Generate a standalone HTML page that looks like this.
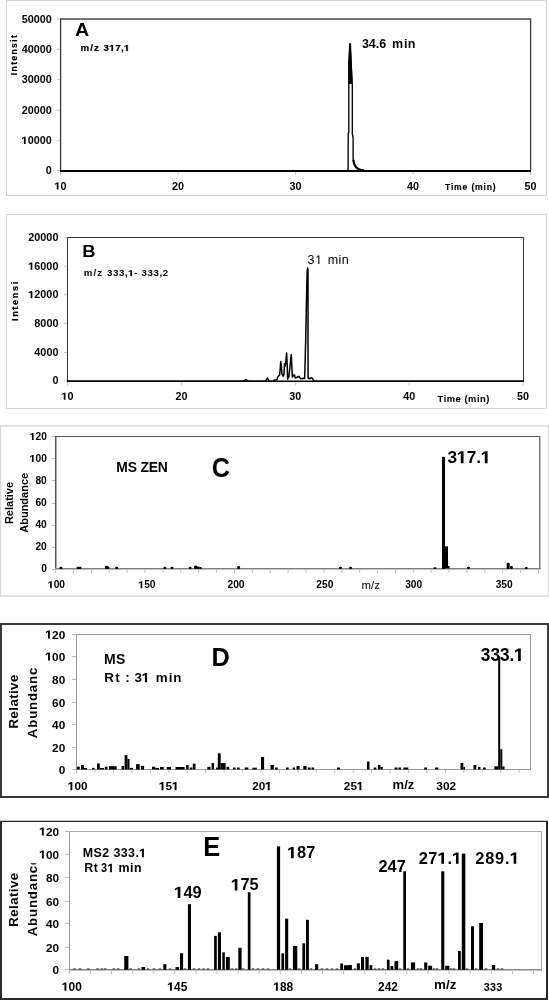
<!DOCTYPE html>
<html><head><meta charset="utf-8"><style>
html,body{margin:0;padding:0;background:#fff;}
body{width:549px;height:1000px;overflow:hidden;}
svg{display:block;will-change:transform;}
text{font-family:"Liberation Sans",sans-serif;fill:#000;}
</style></head><body>
<svg width="549" height="1000" viewBox="0 0 549 1000">
<rect x="6.5" y="0.5" width="540" height="195" fill="none" stroke="#d4d4d4" stroke-width="1"/>
<line x1="60" y1="19" x2="531" y2="19" stroke="#4a4a4a" stroke-width="1.5"/>
<line x1="530.6" y1="19" x2="530.6" y2="170.5" stroke="#3a3a3a" stroke-width="1.3"/>
<line x1="60.6" y1="19" x2="60.6" y2="170" stroke="#3a3a3a" stroke-width="1.3"/>
<line x1="60" y1="171" x2="531" y2="171" stroke="#000" stroke-width="2"/>
<line x1="57" y1="170.5" x2="60" y2="170.5" stroke="#c4c4c4" stroke-width="1"/>
<text transform="translate(51.7,174.0) scale(1.05,1)" font-size="10.3" text-anchor="end" font-weight="bold" >0</text>
<line x1="57" y1="140.4" x2="60" y2="140.4" stroke="#c4c4c4" stroke-width="1"/>
<g transform="translate(51.7,143.9) scale(1.05,1)"><text id="o0" font-size="10.3" text-anchor="end" font-weight="bold"> 0000</text><path transform="translate(-28.620,0.000) scale(0.005029,-0.005029)" d="M430,0L430,1140L70,935L70,1178L475,1409L759,1409L759,0Z"/></g>
<line x1="57" y1="110.3" x2="60" y2="110.3" stroke="#c4c4c4" stroke-width="1"/>
<text transform="translate(51.7,113.8) scale(1.05,1)" font-size="10.3" text-anchor="end" font-weight="bold" >20000</text>
<line x1="57" y1="79.6" x2="60" y2="79.6" stroke="#c4c4c4" stroke-width="1"/>
<text transform="translate(51.7,83.1) scale(1.05,1)" font-size="10.3" text-anchor="end" font-weight="bold" >30000</text>
<line x1="57" y1="49.3" x2="60" y2="49.3" stroke="#c4c4c4" stroke-width="1"/>
<text transform="translate(51.7,52.8) scale(1.05,1)" font-size="10.3" text-anchor="end" font-weight="bold" >40000</text>
<line x1="57" y1="19.1" x2="60" y2="19.1" stroke="#c4c4c4" stroke-width="1"/>
<text transform="translate(51.7,22.6) scale(1.05,1)" font-size="10.3" text-anchor="end" font-weight="bold" >50000</text>
<line x1="60.5" y1="172" x2="60.5" y2="175" stroke="#c8c8c8" stroke-width="1"/>
<g transform="translate(60.5,189.6) scale(1.05,1)"><text id="o1" font-size="10.3" text-anchor="middle" font-weight="bold"> 0</text><path transform="translate(-5.722,0.000) scale(0.005029,-0.005029)" d="M430,0L430,1140L70,935L70,1178L475,1409L759,1409L759,0Z"/></g>
<line x1="178.0" y1="172" x2="178.0" y2="175" stroke="#c8c8c8" stroke-width="1"/>
<text transform="translate(178.0,189.6) scale(1.05,1)" font-size="10.3" text-anchor="middle" font-weight="bold" >20</text>
<line x1="295.5" y1="172" x2="295.5" y2="175" stroke="#c8c8c8" stroke-width="1"/>
<text transform="translate(295.5,189.6) scale(1.05,1)" font-size="10.3" text-anchor="middle" font-weight="bold" >30</text>
<line x1="413.0" y1="172" x2="413.0" y2="175" stroke="#c8c8c8" stroke-width="1"/>
<text transform="translate(413.0,189.6) scale(1.05,1)" font-size="10.3" text-anchor="middle" font-weight="bold" >40</text>
<line x1="530.5" y1="172" x2="530.5" y2="175" stroke="#c8c8c8" stroke-width="1"/>
<text transform="translate(530.5,189.6) scale(1.05,1)" font-size="10.3" text-anchor="middle" font-weight="bold" >50</text>
<text transform="translate(75,36.3) scale(1.04,1)" font-size="18.9" text-anchor="start" font-weight="bold" >A</text>
<text transform="translate(80.6,51) scale(1.1,1)" font-size="8.8" text-anchor="start" font-weight="bold" letter-spacing="1.0" stroke="#000" stroke-width="0.25" >m/z</text>
<g transform="translate(103.6,51) scale(1.1,1)"><text id="o2" font-size="8.8" text-anchor="start" font-weight="bold" letter-spacing="0.4" stroke="#000" stroke-width="0.25">3 7, </text><path transform="translate(5.292,0.000) scale(0.004297,-0.004297)" d="M430,0L430,1140L70,935L70,1178L475,1409L759,1409L759,0Z" stroke="#000" stroke-width="58.2"/><path transform="translate(18.714,0.000) scale(0.004297,-0.004297)" d="M430,0L430,1140L70,935L70,1178L475,1409L759,1409L759,0Z" stroke="#000" stroke-width="58.2"/></g>
<text transform="translate(17,75.2) rotate(-90)" font-size="8.5" text-anchor="start" font-weight="bold" letter-spacing="1.4" stroke="#000" stroke-width="0.2" >Intensit</text>
<text transform="translate(361.9,47.7) scale(1.04,1)" font-size="12" text-anchor="start" font-weight="bold" >34.6</text>
<text transform="translate(392,47.7) scale(1.04,1)" font-size="12" text-anchor="start" font-weight="bold" >m</text>
<text transform="translate(404,47.7) scale(1.04,1)" font-size="12" text-anchor="start" font-weight="bold" letter-spacing="0.3" >in</text>
<text transform="translate(445,189.5)" font-size="8.6" text-anchor="start" font-weight="bold" letter-spacing="0.82" stroke="#000" stroke-width="0.15" >Time (min)</text>
<polyline fill="none" stroke="#000" stroke-width="1.35" stroke-linejoin="round" points="330,171 347.3,171 348.1,169 348.2,134 348.8,132 348.8,86 349.4,55 349.9,43.8 350.4,44 351,60 352.3,86 352.3,134 353.1,137.5 353.1,159 353.8,162.5 354.8,165 356,167 357.5,168.5 360,169.6 364,170.6 370,171"/>
<path d="M349.1,43.6 L350.7,43.6 L351.2,53.7 L351.9,63.7 L352.6,84 L348.3,84 L348.1,63.7 L348.7,53.7 Z" fill="#000"/>
<polyline fill="none" stroke="#000" stroke-width="2.1" stroke-linejoin="round" points="353.3,160 353.9,163 355,165.6 356.4,167.6 358.2,169 361,170 364,170.6"/>
<rect x="6.5" y="214.5" width="540" height="194" fill="none" stroke="#d4d4d4" stroke-width="1"/>
<line x1="67.5" y1="237.5" x2="523.5" y2="237.5" stroke="#333" stroke-width="1"/>
<line x1="523.5" y1="237.5" x2="523.5" y2="381" stroke="#333" stroke-width="1"/>
<line x1="67.5" y1="237.5" x2="67.5" y2="381" stroke="#333" stroke-width="1"/>
<line x1="67" y1="381.2" x2="524" y2="381.2" stroke="#000" stroke-width="1.5"/>
<line x1="64" y1="380.8" x2="67" y2="380.8" stroke="#c4c4c4" stroke-width="1"/>
<text transform="translate(58.4,384.2) scale(1.05,1)" font-size="10.3" text-anchor="end" font-weight="bold" >0</text>
<line x1="64" y1="352.5" x2="67" y2="352.5" stroke="#c4c4c4" stroke-width="1"/>
<text transform="translate(58.4,355.9) scale(1.05,1)" font-size="10.3" text-anchor="end" font-weight="bold" >4000</text>
<line x1="64" y1="323.6" x2="67" y2="323.6" stroke="#c4c4c4" stroke-width="1"/>
<text transform="translate(58.4,327.0) scale(1.05,1)" font-size="10.3" text-anchor="end" font-weight="bold" >8000</text>
<line x1="64" y1="294.8" x2="67" y2="294.8" stroke="#c4c4c4" stroke-width="1"/>
<g transform="translate(58.4,298.2) scale(1.05,1)"><text id="o3" font-size="10.3" text-anchor="end" font-weight="bold"> 2000</text><path transform="translate(-28.620,0.000) scale(0.005029,-0.005029)" d="M430,0L430,1140L70,935L70,1178L475,1409L759,1409L759,0Z"/></g>
<line x1="64" y1="266.3" x2="67" y2="266.3" stroke="#c4c4c4" stroke-width="1"/>
<g transform="translate(58.4,269.7) scale(1.05,1)"><text id="o4" font-size="10.3" text-anchor="end" font-weight="bold"> 6000</text><path transform="translate(-28.620,0.000) scale(0.005029,-0.005029)" d="M430,0L430,1140L70,935L70,1178L475,1409L759,1409L759,0Z"/></g>
<line x1="64" y1="237.4" x2="67" y2="237.4" stroke="#c4c4c4" stroke-width="1"/>
<text transform="translate(58.4,240.8) scale(1.05,1)" font-size="10.3" text-anchor="end" font-weight="bold" >20000</text>
<line x1="67.5" y1="382" x2="67.5" y2="385.5" stroke="#c8c8c8" stroke-width="1"/>
<g transform="translate(67.5,399.8) scale(1.05,1)"><text id="o5" font-size="10.3" text-anchor="middle" font-weight="bold"> 0</text><path transform="translate(-5.722,0.000) scale(0.005029,-0.005029)" d="M430,0L430,1140L70,935L70,1178L475,1409L759,1409L759,0Z"/></g>
<line x1="181.4" y1="382" x2="181.4" y2="385.5" stroke="#c8c8c8" stroke-width="1"/>
<text transform="translate(181.4,399.8) scale(1.05,1)" font-size="10.3" text-anchor="middle" font-weight="bold" >20</text>
<line x1="295.3" y1="382" x2="295.3" y2="385.5" stroke="#c8c8c8" stroke-width="1"/>
<text transform="translate(295.3,399.8) scale(1.05,1)" font-size="10.3" text-anchor="middle" font-weight="bold" >30</text>
<line x1="409.20000000000005" y1="382" x2="409.20000000000005" y2="385.5" stroke="#c8c8c8" stroke-width="1"/>
<text transform="translate(409.20000000000005,399.8) scale(1.05,1)" font-size="10.3" text-anchor="middle" font-weight="bold" >40</text>
<line x1="523.1" y1="382" x2="523.1" y2="385.5" stroke="#c8c8c8" stroke-width="1"/>
<text transform="translate(523.1,399.8) scale(1.05,1)" font-size="10.3" text-anchor="middle" font-weight="bold" >50</text>
<text transform="translate(82.3,256.8) scale(1.07,1)" font-size="17.2" text-anchor="start" font-weight="bold" >B</text>
<text transform="translate(83.8,276.2) scale(1.1,1)" font-size="8.8" text-anchor="start" font-weight="bold" letter-spacing="1.0" >m/z</text>
<g transform="translate(107.1,276.2) scale(1.1,1)"><text id="o6" font-size="8.8" text-anchor="start" font-weight="bold" letter-spacing="0.55">333, - 333,2</text><path transform="translate(19.323,0.000) scale(0.004297,-0.004297)" d="M430,0L430,1140L70,935L70,1178L475,1409L759,1409L759,0Z"/></g>
<text transform="translate(18,321) rotate(-90)" font-size="9.2" text-anchor="start" font-weight="bold" letter-spacing="1.6" stroke="#000" stroke-width="0.2" >Intensi</text>
<g transform="translate(307.6,264.1)"><text id="o7" font-size="12.5" text-anchor="start" font-weight="normal">3 </text><path transform="translate(6.938,0.000) scale(0.006104,-0.006104)" d="M615,0L615,1237L297,1010L297,1180L630,1409L796,1409L796,0Z"/></g>
<text transform="translate(327.7,264.1)" font-size="12.5" text-anchor="start" font-weight="normal" letter-spacing="0.45" >min</text>
<text transform="translate(437.6,401.6)" font-size="9.3" text-anchor="start" font-weight="bold" letter-spacing="0.55" stroke="#000" stroke-width="0.1" >Time (min)</text>
<polyline fill="none" stroke="#000" stroke-width="1.5" stroke-linejoin="round" points="68,381.2 243,381.2 244.5,380.5 245.8,379.6 247.2,380.5 248.5,381.2 265.5,381.2 266.5,379.5 267.3,378.1 268.2,379.5 269,381.2 273.3,381.2 274.3,379.9 276.7,379.9 277.8,377.1 279.6,375.1 280.3,368 280.7,361.4 281.3,365 281.9,373.6 283.1,376.3 284,374.5 284.5,363.7 285.2,366 285.8,362 286.6,353 287.2,365 287.6,379.3 288.9,376.5 289.8,368.4 290.6,360 291.2,354.4 291.8,365 292.3,377.1 293.2,376 294.4,374.8 295.3,378 296.5,377.5 297.5,377 298.8,376.3 300,378 301.1,378.9 302.3,378.5 303.5,378.3 304.6,378.5 304.9,370 305.3,355 305.7,340 306.3,310 306.8,285 307.2,271 307.6,268.1 308,270 308,340 308.1,378 309,378.8 310.2,378.3 311.6,377.8 312.5,378.5 313.4,380.2 315,381.2 523,381.2"/>
<rect x="0.5" y="425.9" width="548" height="170.2" fill="none" stroke="#d6d6d6" stroke-width="1.3"/>
<line x1="55.75" y1="436.5" x2="539.75" y2="436.5" stroke="#555" stroke-width="1.2"/>
<line x1="539.75" y1="436" x2="539.75" y2="569" stroke="#777" stroke-width="1.5"/>
<line x1="55.75" y1="436" x2="55.75" y2="569" stroke="#555" stroke-width="1.5"/>
<line x1="55" y1="568.75" x2="540.5" y2="568.75" stroke="#808080" stroke-width="1.7"/>
<line x1="52" y1="569.5" x2="55" y2="569.5" stroke="#bbb" stroke-width="1"/>
<text transform="translate(46.8,572.3000000000001)" font-size="10.2" text-anchor="end" font-weight="bold" >0</text>
<line x1="52" y1="547.5" x2="55" y2="547.5" stroke="#bbb" stroke-width="1"/>
<text transform="translate(46.8,550.2500000000001)" font-size="10.2" text-anchor="end" font-weight="bold" >20</text>
<line x1="52" y1="525.5" x2="55" y2="525.5" stroke="#bbb" stroke-width="1"/>
<text transform="translate(46.8,528.2)" font-size="10.2" text-anchor="end" font-weight="bold" >40</text>
<line x1="52" y1="503.5" x2="55" y2="503.5" stroke="#bbb" stroke-width="1"/>
<text transform="translate(46.8,506.15000000000003)" font-size="10.2" text-anchor="end" font-weight="bold" >60</text>
<line x1="52" y1="480.5" x2="55" y2="480.5" stroke="#bbb" stroke-width="1"/>
<text transform="translate(46.8,484.1)" font-size="10.2" text-anchor="end" font-weight="bold" >80</text>
<line x1="52" y1="458.5" x2="55" y2="458.5" stroke="#bbb" stroke-width="1"/>
<g transform="translate(46.8,462.05)"><text id="o8" font-size="10.2" text-anchor="end" font-weight="bold"> 00</text><path transform="translate(-17.000,0.000) scale(0.004980,-0.004980)" d="M430,0L430,1140L70,935L70,1178L475,1409L759,1409L759,0Z"/></g>
<line x1="52" y1="436.5" x2="55" y2="436.5" stroke="#bbb" stroke-width="1"/>
<g transform="translate(46.8,440.0)"><text id="o9" font-size="10.2" text-anchor="end" font-weight="bold"> 20</text><path transform="translate(-17.000,0.000) scale(0.004980,-0.004980)" d="M430,0L430,1140L70,935L70,1178L475,1409L759,1409L759,0Z"/></g>
<line x1="55.6" y1="570" x2="55.6" y2="573" stroke="#c0c0c0" stroke-width="1"/>
<line x1="73.485" y1="570" x2="73.485" y2="573" stroke="#c0c0c0" stroke-width="1"/>
<line x1="91.37" y1="570" x2="91.37" y2="573" stroke="#c0c0c0" stroke-width="1"/>
<line x1="109.255" y1="570" x2="109.255" y2="573" stroke="#c0c0c0" stroke-width="1"/>
<line x1="127.14000000000001" y1="570" x2="127.14000000000001" y2="573" stroke="#c0c0c0" stroke-width="1"/>
<line x1="145.025" y1="570" x2="145.025" y2="573" stroke="#c0c0c0" stroke-width="1"/>
<line x1="162.91" y1="570" x2="162.91" y2="573" stroke="#c0c0c0" stroke-width="1"/>
<line x1="180.79500000000002" y1="570" x2="180.79500000000002" y2="573" stroke="#c0c0c0" stroke-width="1"/>
<line x1="198.68" y1="570" x2="198.68" y2="573" stroke="#c0c0c0" stroke-width="1"/>
<line x1="216.565" y1="570" x2="216.565" y2="573" stroke="#c0c0c0" stroke-width="1"/>
<line x1="234.45000000000002" y1="570" x2="234.45000000000002" y2="573" stroke="#c0c0c0" stroke-width="1"/>
<line x1="252.335" y1="570" x2="252.335" y2="573" stroke="#c0c0c0" stroke-width="1"/>
<line x1="270.22" y1="570" x2="270.22" y2="573" stroke="#c0c0c0" stroke-width="1"/>
<line x1="288.105" y1="570" x2="288.105" y2="573" stroke="#c0c0c0" stroke-width="1"/>
<line x1="305.99" y1="570" x2="305.99" y2="573" stroke="#c0c0c0" stroke-width="1"/>
<line x1="323.87500000000006" y1="570" x2="323.87500000000006" y2="573" stroke="#c0c0c0" stroke-width="1"/>
<line x1="341.76000000000005" y1="570" x2="341.76000000000005" y2="573" stroke="#c0c0c0" stroke-width="1"/>
<line x1="359.64500000000004" y1="570" x2="359.64500000000004" y2="573" stroke="#c0c0c0" stroke-width="1"/>
<line x1="377.53000000000003" y1="570" x2="377.53000000000003" y2="573" stroke="#c0c0c0" stroke-width="1"/>
<line x1="395.4150000000001" y1="570" x2="395.4150000000001" y2="573" stroke="#c0c0c0" stroke-width="1"/>
<line x1="413.30000000000007" y1="570" x2="413.30000000000007" y2="573" stroke="#c0c0c0" stroke-width="1"/>
<line x1="431.18500000000006" y1="570" x2="431.18500000000006" y2="573" stroke="#c0c0c0" stroke-width="1"/>
<line x1="449.07000000000005" y1="570" x2="449.07000000000005" y2="573" stroke="#c0c0c0" stroke-width="1"/>
<line x1="466.95500000000004" y1="570" x2="466.95500000000004" y2="573" stroke="#c0c0c0" stroke-width="1"/>
<line x1="484.84000000000003" y1="570" x2="484.84000000000003" y2="573" stroke="#c0c0c0" stroke-width="1"/>
<line x1="502.7250000000001" y1="570" x2="502.7250000000001" y2="573" stroke="#c0c0c0" stroke-width="1"/>
<line x1="520.61" y1="570" x2="520.61" y2="573" stroke="#c0c0c0" stroke-width="1"/>
<line x1="538.495" y1="570" x2="538.495" y2="573" stroke="#c0c0c0" stroke-width="1"/>
<g transform="translate(56.5,588.3)"><text id="o10" font-size="10.2" text-anchor="middle" font-weight="bold"> 00</text><path transform="translate(-8.500,0.000) scale(0.004980,-0.004980)" d="M430,0L430,1140L70,935L70,1178L475,1409L759,1409L759,0Z"/></g>
<g transform="translate(147,588.3)"><text id="o11" font-size="10.2" text-anchor="middle" font-weight="bold"> 50</text><path transform="translate(-8.500,0.000) scale(0.004980,-0.004980)" d="M430,0L430,1140L70,935L70,1178L475,1409L759,1409L759,0Z"/></g>
<text transform="translate(236,588.3)" font-size="10.2" text-anchor="middle" font-weight="bold" >200</text>
<text transform="translate(324.8,588.3)" font-size="10.2" text-anchor="middle" font-weight="bold" >250</text>
<text transform="translate(413.7,588.3)" font-size="10.2" text-anchor="middle" font-weight="bold" >300</text>
<text transform="translate(504.2,588.3)" font-size="10.2" text-anchor="middle" font-weight="bold" >350</text>
<text transform="translate(361.6,588.6)" font-size="11.4" text-anchor="start" font-weight="normal" >m/z</text>
<text transform="translate(116.3,472.1)" font-size="13.9" text-anchor="start" font-weight="bold" letter-spacing="-0.2" >MS ZEN</text>
<text transform="translate(211.7,477.3) scale(0.885,1)" font-size="28.4" text-anchor="start" font-weight="bold" >C</text>
<g transform="translate(447.5,463.2) scale(0.995,1)"><text id="o12" font-size="17.4" text-anchor="start" font-weight="bold">3 7. </text><path transform="translate(9.665,0.000) scale(0.008496,-0.008496)" d="M430,0L430,1140L70,935L70,1178L475,1409L759,1409L759,0Z"/><path transform="translate(33.834,0.000) scale(0.008496,-0.008496)" d="M430,0L430,1140L70,935L70,1178L475,1409L759,1409L759,0Z"/></g>
<text transform="translate(13.3,503) rotate(-90)" font-size="11" text-anchor="middle" font-weight="bold" >Relative</text>
<text transform="translate(28,502.8) rotate(-90)" font-size="11" text-anchor="middle" font-weight="bold" >Abundance</text>
<rect x="442" y="456.9" width="3" height="112" fill="#000"/>
<rect x="445" y="546.4" width="3" height="22" fill="#000"/>
<rect x="448" y="566" width="1.6" height="2.5" fill="#000"/>
<rect x="59.4" y="566.8" width="3" height="2.2000000000000455" rx="1.2" fill="#000"/>
<rect x="76.5" y="566.8" width="3" height="2.2000000000000455" rx="1.2" fill="#000"/>
<rect x="78.5" y="566.8" width="3" height="2.2000000000000455" rx="1.2" fill="#000"/>
<rect x="104.9" y="565.8" width="3" height="3.2000000000000455" rx="1.2" fill="#000"/>
<rect x="106.5" y="566.5" width="3" height="2.5" rx="1.2" fill="#000"/>
<rect x="115.2" y="566.8" width="3" height="2.2000000000000455" rx="1.2" fill="#000"/>
<rect x="163.3" y="566.8" width="3" height="2.2000000000000455" rx="1.2" fill="#000"/>
<rect x="170.5" y="566.8" width="3" height="2.2000000000000455" rx="1.2" fill="#000"/>
<rect x="188.7" y="566.8" width="3" height="2.2000000000000455" rx="1.2" fill="#000"/>
<rect x="194.1" y="565.4" width="3" height="3.6000000000000227" rx="1.2" fill="#000"/>
<rect x="196.5" y="566.5" width="3" height="2.5" rx="1.2" fill="#000"/>
<rect x="198.9" y="567" width="3" height="2" rx="1.2" fill="#000"/>
<rect x="237.1" y="566" width="3" height="3" rx="1.2" fill="#000"/>
<rect x="339.0" y="566.8" width="3" height="2.2000000000000455" rx="1.2" fill="#000"/>
<rect x="349.1" y="566.8" width="3" height="2.2000000000000455" rx="1.2" fill="#000"/>
<rect x="433.4" y="567.2" width="3" height="1.7999999999999545" rx="1.2" fill="#000"/>
<rect x="467.0" y="566.8" width="3" height="2.2000000000000455" rx="1.2" fill="#000"/>
<rect x="506.7" y="562.8" width="3" height="6.2000000000000455" rx="1.2" fill="#000"/>
<rect x="509.8" y="566" width="3" height="3" rx="1.2" fill="#000"/>
<rect x="524.8" y="566.9" width="3" height="2.1000000000000227" rx="1.2" fill="#000"/>
<rect x="1" y="624" width="547" height="173" fill="none" stroke="#3a3a3a" stroke-width="2"/>
<line x1="76.5" y1="634.5" x2="530.5" y2="634.5" stroke="#999" stroke-width="1"/>
<line x1="530.5" y1="634.5" x2="530.5" y2="769.5" stroke="#999" stroke-width="1"/>
<line x1="76.5" y1="634.5" x2="76.5" y2="769.5" stroke="#999" stroke-width="1"/>
<line x1="76" y1="769.5" x2="531" y2="769.5" stroke="#999" stroke-width="1"/>
<line x1="72" y1="769.5" x2="76" y2="769.5" stroke="#bbb" stroke-width="1"/>
<text transform="translate(65.2,773.6)" font-size="11.8" text-anchor="end" font-weight="bold" >0</text>
<line x1="72" y1="747.5" x2="76" y2="747.5" stroke="#bbb" stroke-width="1"/>
<text transform="translate(65.2,751.6)" font-size="11.8" text-anchor="end" font-weight="bold" >20</text>
<line x1="72" y1="724.5" x2="76" y2="724.5" stroke="#bbb" stroke-width="1"/>
<text transform="translate(65.2,728.6)" font-size="11.8" text-anchor="end" font-weight="bold" >40</text>
<line x1="72" y1="702.5" x2="76" y2="702.5" stroke="#bbb" stroke-width="1"/>
<text transform="translate(65.2,706.6)" font-size="11.8" text-anchor="end" font-weight="bold" >60</text>
<line x1="72" y1="679.5" x2="76" y2="679.5" stroke="#bbb" stroke-width="1"/>
<text transform="translate(65.2,683.6)" font-size="11.8" text-anchor="end" font-weight="bold" >80</text>
<line x1="72" y1="656.5" x2="76" y2="656.5" stroke="#bbb" stroke-width="1"/>
<g transform="translate(65.2,660.6)"><text id="o13" font-size="11.8" text-anchor="end" font-weight="bold"> 00</text><path transform="translate(-19.688,0.000) scale(0.005762,-0.005762)" d="M430,0L430,1140L70,935L70,1178L475,1409L759,1409L759,0Z"/></g>
<line x1="72" y1="634.5" x2="76" y2="634.5" stroke="#bbb" stroke-width="1"/>
<g transform="translate(65.2,638.6)"><text id="o14" font-size="11.8" text-anchor="end" font-weight="bold"> 20</text><path transform="translate(-19.688,0.000) scale(0.005762,-0.005762)" d="M430,0L430,1140L70,935L70,1178L475,1409L759,1409L759,0Z"/></g>
<line x1="76.6" y1="770" x2="76.6" y2="773" stroke="#c0c0c0" stroke-width="1"/>
<line x1="95.03999999999999" y1="770" x2="95.03999999999999" y2="773" stroke="#c0c0c0" stroke-width="1"/>
<line x1="113.47999999999999" y1="770" x2="113.47999999999999" y2="773" stroke="#c0c0c0" stroke-width="1"/>
<line x1="131.92000000000002" y1="770" x2="131.92000000000002" y2="773" stroke="#c0c0c0" stroke-width="1"/>
<line x1="150.36" y1="770" x2="150.36" y2="773" stroke="#c0c0c0" stroke-width="1"/>
<line x1="168.8" y1="770" x2="168.8" y2="773" stroke="#c0c0c0" stroke-width="1"/>
<line x1="187.24" y1="770" x2="187.24" y2="773" stroke="#c0c0c0" stroke-width="1"/>
<line x1="205.68" y1="770" x2="205.68" y2="773" stroke="#c0c0c0" stroke-width="1"/>
<line x1="224.12" y1="770" x2="224.12" y2="773" stroke="#c0c0c0" stroke-width="1"/>
<line x1="242.56" y1="770" x2="242.56" y2="773" stroke="#c0c0c0" stroke-width="1"/>
<line x1="261.0" y1="770" x2="261.0" y2="773" stroke="#c0c0c0" stroke-width="1"/>
<line x1="279.44" y1="770" x2="279.44" y2="773" stroke="#c0c0c0" stroke-width="1"/>
<line x1="297.88" y1="770" x2="297.88" y2="773" stroke="#c0c0c0" stroke-width="1"/>
<line x1="316.32000000000005" y1="770" x2="316.32000000000005" y2="773" stroke="#c0c0c0" stroke-width="1"/>
<line x1="334.76" y1="770" x2="334.76" y2="773" stroke="#c0c0c0" stroke-width="1"/>
<line x1="353.20000000000005" y1="770" x2="353.20000000000005" y2="773" stroke="#c0c0c0" stroke-width="1"/>
<line x1="371.64" y1="770" x2="371.64" y2="773" stroke="#c0c0c0" stroke-width="1"/>
<line x1="390.08000000000004" y1="770" x2="390.08000000000004" y2="773" stroke="#c0c0c0" stroke-width="1"/>
<line x1="408.52" y1="770" x2="408.52" y2="773" stroke="#c0c0c0" stroke-width="1"/>
<line x1="426.96000000000004" y1="770" x2="426.96000000000004" y2="773" stroke="#c0c0c0" stroke-width="1"/>
<line x1="445.4" y1="770" x2="445.4" y2="773" stroke="#c0c0c0" stroke-width="1"/>
<line x1="463.84000000000003" y1="770" x2="463.84000000000003" y2="773" stroke="#c0c0c0" stroke-width="1"/>
<line x1="482.28" y1="770" x2="482.28" y2="773" stroke="#c0c0c0" stroke-width="1"/>
<line x1="500.72" y1="770" x2="500.72" y2="773" stroke="#c0c0c0" stroke-width="1"/>
<line x1="519.1600000000001" y1="770" x2="519.1600000000001" y2="773" stroke="#c0c0c0" stroke-width="1"/>
<g transform="translate(77.8,790.2)"><text id="o15" font-size="11.8" text-anchor="middle" font-weight="bold"> 00</text><path transform="translate(-9.844,0.000) scale(0.005762,-0.005762)" d="M430,0L430,1140L70,935L70,1178L475,1409L759,1409L759,0Z"/></g>
<g transform="translate(168.9,790.2)"><text id="o16" font-size="11.8" text-anchor="middle" font-weight="bold"> 5 </text><path transform="translate(-9.844,0.000) scale(0.005762,-0.005762)" d="M430,0L430,1140L70,935L70,1178L475,1409L759,1409L759,0Z"/><path transform="translate(3.266,0.000) scale(0.005762,-0.005762)" d="M430,0L430,1140L70,935L70,1178L475,1409L759,1409L759,0Z"/></g>
<g transform="translate(262,790.2)"><text id="o17" font-size="11.8" text-anchor="middle" font-weight="bold">20 </text><path transform="translate(3.266,0.000) scale(0.005762,-0.005762)" d="M430,0L430,1140L70,935L70,1178L475,1409L759,1409L759,0Z"/></g>
<g transform="translate(353.7,790.2)"><text id="o18" font-size="11.8" text-anchor="middle" font-weight="bold">25 </text><path transform="translate(3.266,0.000) scale(0.005762,-0.005762)" d="M430,0L430,1140L70,935L70,1178L475,1409L759,1409L759,0Z"/></g>
<text transform="translate(446.2,790.2)" font-size="11.8" text-anchor="middle" font-weight="bold" >302</text>
<text transform="translate(392.6,788.5)" font-size="13" text-anchor="start" font-weight="bold" >m/z</text>
<text transform="translate(103.9,663.6)" font-size="14" text-anchor="start" font-weight="bold" letter-spacing="0.4" >MS</text>
<text transform="translate(104.2,682.3)" font-size="13.4" text-anchor="start" font-weight="bold" letter-spacing="1.4" >Rt</text>
<text transform="translate(125.2,682.3)" font-size="13.4" text-anchor="start" font-weight="bold" >:</text>
<g transform="translate(134.4,682.3)"><text id="o19" font-size="13.4" text-anchor="start" font-weight="bold" letter-spacing="0.3">3 </text><path transform="translate(7.734,0.000) scale(0.006543,-0.006543)" d="M430,0L430,1140L70,935L70,1178L475,1409L759,1409L759,0Z"/></g>
<text transform="translate(155.8,682.3)" font-size="13.4" text-anchor="start" font-weight="bold" letter-spacing="0.95" >min</text>
<text transform="translate(211.6,666) scale(0.96,1)" font-size="26.4" text-anchor="start" font-weight="bold" >D</text>
<g transform="translate(480.8,660.9) scale(0.965,1)"><text id="o20" font-size="17.9" text-anchor="start" font-weight="bold">333. </text><path transform="translate(34.807,0.000) scale(0.008740,-0.008740)" d="M430,0L430,1140L70,935L70,1178L475,1409L759,1409L759,0Z"/></g>
<text transform="translate(17.5,701.4) rotate(-90)" font-size="13.2" text-anchor="middle" font-weight="bold" letter-spacing="0.45" >Relative</text>
<text transform="translate(36.9,702.5) rotate(-90)" font-size="13.2" text-anchor="middle" font-weight="bold" letter-spacing="0.85" >Abundanc</text>
<rect x="498.2" y="656.3" width="2" height="113.2" fill="#000"/>
<rect x="76.9" y="766.7" width="2.8999999999999915" height="2.7999999999999545" fill="#000"/>
<rect x="81.1" y="764.9" width="2.8000000000000114" height="4.600000000000023" fill="#000"/>
<rect x="84" y="768" width="3" height="1.5" fill="#000"/>
<rect x="92.1" y="767.9" width="2.5" height="1.6000000000000227" fill="#000"/>
<rect x="97" y="763.4" width="2.799999999999997" height="6.100000000000023" fill="#000"/>
<rect x="100" y="768" width="4" height="1.5" fill="#000"/>
<rect x="104.8" y="766.7" width="2.6000000000000085" height="2.7999999999999545" fill="#000"/>
<rect x="109" y="766.2" width="7.700000000000003" height="3.2999999999999545" fill="#000"/>
<rect x="121.6" y="765.9" width="2.5" height="3.6000000000000227" fill="#000"/>
<rect x="124.6" y="755.2" width="2.8000000000000114" height="14.299999999999955" fill="#000"/>
<rect x="127.4" y="758.9" width="2.0999999999999943" height="10.600000000000023" fill="#000"/>
<rect x="129.8" y="767.9" width="3.299999999999983" height="1.6000000000000227" fill="#000"/>
<rect x="136.1" y="764.1" width="3.5999999999999943" height="5.399999999999977" fill="#000"/>
<rect x="141" y="765.9" width="3.0999999999999943" height="3.6000000000000227" fill="#000"/>
<rect x="152" y="766.7" width="3.1999999999999886" height="2.7999999999999545" fill="#000"/>
<rect x="155.2" y="767.9" width="3.8000000000000114" height="1.6000000000000227" fill="#000"/>
<rect x="160" y="767" width="3.6999999999999886" height="2.5" fill="#000"/>
<rect x="166.8" y="767" width="4.199999999999989" height="2.5" fill="#000"/>
<rect x="175.5" y="767" width="9.099999999999994" height="2.5" fill="#000"/>
<rect x="186.1" y="765" width="2.5" height="4.5" fill="#000"/>
<rect x="189.7" y="767.5" width="2.6000000000000227" height="2.0" fill="#000"/>
<rect x="192.8" y="763.7" width="2.6999999999999886" height="5.7999999999999545" fill="#000"/>
<rect x="207.4" y="766.8" width="3.0999999999999943" height="2.7000000000000455" fill="#000"/>
<rect x="211.6" y="763.1" width="2.5" height="6.399999999999977" fill="#000"/>
<rect x="216" y="767.5" width="1.8000000000000114" height="2.0" fill="#000"/>
<rect x="217.8" y="753.3" width="2.8999999999999773" height="16.200000000000045" fill="#000"/>
<rect x="220.7" y="763.1" width="4.900000000000006" height="6.399999999999977" fill="#000"/>
<rect x="226.5" y="766.8" width="2.6999999999999886" height="2.7000000000000455" fill="#000"/>
<rect x="232.9" y="767.5" width="2.6999999999999886" height="2.0" fill="#000"/>
<rect x="237" y="767.5" width="2.5999999999999943" height="2.0" fill="#000"/>
<rect x="244.7" y="767.5" width="3.700000000000017" height="2.0" fill="#000"/>
<rect x="252.3" y="767.7" width="4.5" height="1.7999999999999545" fill="#000"/>
<rect x="261" y="756.9" width="3.1000000000000227" height="12.600000000000023" fill="#000"/>
<rect x="270.5" y="765" width="3.3000000000000114" height="4.5" fill="#000"/>
<rect x="275" y="767.5" width="2.8000000000000114" height="2.0" fill="#000"/>
<rect x="286" y="767.5" width="2.6999999999999886" height="2.0" fill="#000"/>
<rect x="292.7" y="767.5" width="2.3000000000000114" height="2.0" fill="#000"/>
<rect x="296.5" y="766" width="3.1000000000000227" height="3.5" fill="#000"/>
<rect x="303.3" y="766" width="3.3000000000000114" height="3.5" fill="#000"/>
<rect x="307.8" y="767.5" width="2.8000000000000114" height="2.0" fill="#000"/>
<rect x="311.5" y="767.5" width="2.6999999999999886" height="2.0" fill="#000"/>
<rect x="337" y="767.5" width="3" height="2.0" fill="#000"/>
<rect x="367" y="761.5" width="2.5" height="8.0" fill="#000"/>
<rect x="373.7" y="767.5" width="2.6999999999999886" height="2.0" fill="#000"/>
<rect x="377.9" y="765" width="2.5" height="4.5" fill="#000"/>
<rect x="380.4" y="767" width="2.400000000000034" height="2.5" fill="#000"/>
<rect x="394.6" y="767.5" width="2.7999999999999545" height="2.0" fill="#000"/>
<rect x="398.3" y="767.5" width="2.6999999999999886" height="2.0" fill="#000"/>
<rect x="403.4" y="767.5" width="4.900000000000034" height="2.0" fill="#000"/>
<rect x="424.2" y="767.5" width="2.8000000000000114" height="2.0" fill="#000"/>
<rect x="435" y="767.5" width="3.3999999999999773" height="2.0" fill="#000"/>
<rect x="460.5" y="763" width="2.8000000000000114" height="6.5" fill="#000"/>
<rect x="463.3" y="767" width="1.6999999999999886" height="2.5" fill="#000"/>
<rect x="473.5" y="765" width="2.8000000000000114" height="4.5" fill="#000"/>
<rect x="478" y="767" width="2.5" height="2.5" fill="#000"/>
<rect x="483" y="767.5" width="2.6999999999999886" height="2.0" fill="#000"/>
<rect x="494.3" y="766.3" width="4.0" height="3.2000000000000455" fill="#000"/>
<rect x="500.3" y="749.2" width="2.0" height="20.299999999999955" fill="#000"/>
<rect x="502.3" y="766.5" width="2.1999999999999886" height="3.0" fill="#000"/>
<line x1="0" y1="821.4" x2="548" y2="821.4" stroke="#2a2a2a" stroke-width="1.4"/>
<line x1="1" y1="821" x2="1" y2="1000" stroke="#2a2a2a" stroke-width="2"/>
<line x1="547" y1="821" x2="547" y2="1000" stroke="#2a2a2a" stroke-width="2"/>
<line x1="0" y1="999" x2="548" y2="999" stroke="#2a2a2a" stroke-width="2"/>
<line x1="69.5" y1="831.5" x2="541.5" y2="831.5" stroke="#aaa" stroke-width="1"/>
<line x1="541.5" y1="831.5" x2="541.5" y2="970" stroke="#aaa" stroke-width="1"/>
<line x1="69.5" y1="831.5" x2="69.5" y2="970" stroke="#999" stroke-width="1"/>
<line x1="69" y1="969.8" x2="542" y2="969.8" stroke="#888" stroke-width="1.5"/>
<line x1="65" y1="969.5" x2="69" y2="969.5" stroke="#bbb" stroke-width="1"/>
<text transform="translate(59.1,973.6)" font-size="11.8" text-anchor="end" font-weight="bold" >0</text>
<line x1="65" y1="947.5" x2="69" y2="947.5" stroke="#bbb" stroke-width="1"/>
<text transform="translate(59.1,951.6)" font-size="11.8" text-anchor="end" font-weight="bold" >20</text>
<line x1="65" y1="923.5" x2="69" y2="923.5" stroke="#bbb" stroke-width="1"/>
<text transform="translate(59.1,927.6)" font-size="11.8" text-anchor="end" font-weight="bold" >40</text>
<line x1="65" y1="901.5" x2="69" y2="901.5" stroke="#bbb" stroke-width="1"/>
<text transform="translate(59.1,905.6)" font-size="11.8" text-anchor="end" font-weight="bold" >60</text>
<line x1="65" y1="877.5" x2="69" y2="877.5" stroke="#bbb" stroke-width="1"/>
<text transform="translate(59.1,881.6)" font-size="11.8" text-anchor="end" font-weight="bold" >80</text>
<line x1="65" y1="854.5" x2="69" y2="854.5" stroke="#bbb" stroke-width="1"/>
<g transform="translate(59.1,858.6)"><text id="o21" font-size="11.8" text-anchor="end" font-weight="bold"> 00</text><path transform="translate(-19.688,0.000) scale(0.005762,-0.005762)" d="M430,0L430,1140L70,935L70,1178L475,1409L759,1409L759,0Z"/></g>
<line x1="65" y1="831.5" x2="69" y2="831.5" stroke="#bbb" stroke-width="1"/>
<g transform="translate(59.1,835.6)"><text id="o22" font-size="11.8" text-anchor="end" font-weight="bold"> 20</text><path transform="translate(-19.688,0.000) scale(0.005762,-0.005762)" d="M430,0L430,1140L70,935L70,1178L475,1409L759,1409L759,0Z"/></g>
<line x1="69.3" y1="971" x2="69.3" y2="974" stroke="#bbb" stroke-width="1"/>
<line x1="90.4" y1="971" x2="90.4" y2="974" stroke="#bbb" stroke-width="1"/>
<line x1="111.5" y1="971" x2="111.5" y2="974" stroke="#bbb" stroke-width="1"/>
<line x1="132.6" y1="971" x2="132.6" y2="974" stroke="#bbb" stroke-width="1"/>
<line x1="153.7" y1="971" x2="153.7" y2="974" stroke="#bbb" stroke-width="1"/>
<line x1="174.8" y1="971" x2="174.8" y2="974" stroke="#bbb" stroke-width="1"/>
<line x1="195.9" y1="971" x2="195.9" y2="974" stroke="#bbb" stroke-width="1"/>
<line x1="217.0" y1="971" x2="217.0" y2="974" stroke="#bbb" stroke-width="1"/>
<line x1="238.10000000000002" y1="971" x2="238.10000000000002" y2="974" stroke="#bbb" stroke-width="1"/>
<line x1="259.2" y1="971" x2="259.2" y2="974" stroke="#bbb" stroke-width="1"/>
<line x1="280.3" y1="971" x2="280.3" y2="974" stroke="#bbb" stroke-width="1"/>
<line x1="301.40000000000003" y1="971" x2="301.40000000000003" y2="974" stroke="#bbb" stroke-width="1"/>
<line x1="322.5" y1="971" x2="322.5" y2="974" stroke="#bbb" stroke-width="1"/>
<line x1="343.6" y1="971" x2="343.6" y2="974" stroke="#bbb" stroke-width="1"/>
<line x1="364.70000000000005" y1="971" x2="364.70000000000005" y2="974" stroke="#bbb" stroke-width="1"/>
<line x1="385.8" y1="971" x2="385.8" y2="974" stroke="#bbb" stroke-width="1"/>
<line x1="406.90000000000003" y1="971" x2="406.90000000000003" y2="974" stroke="#bbb" stroke-width="1"/>
<line x1="428.00000000000006" y1="971" x2="428.00000000000006" y2="974" stroke="#bbb" stroke-width="1"/>
<line x1="449.1" y1="971" x2="449.1" y2="974" stroke="#bbb" stroke-width="1"/>
<line x1="470.20000000000005" y1="971" x2="470.20000000000005" y2="974" stroke="#bbb" stroke-width="1"/>
<line x1="491.3" y1="971" x2="491.3" y2="974" stroke="#bbb" stroke-width="1"/>
<line x1="512.4" y1="971" x2="512.4" y2="974" stroke="#bbb" stroke-width="1"/>
<line x1="533.5" y1="971" x2="533.5" y2="974" stroke="#bbb" stroke-width="1"/>
<g transform="translate(71.9,990.8)"><text id="o23" font-size="11.9" text-anchor="middle" font-weight="bold"> 00</text><path transform="translate(-9.922,0.000) scale(0.005811,-0.005811)" d="M430,0L430,1140L70,935L70,1178L475,1409L759,1409L759,0Z"/></g>
<g transform="translate(177.4,990.8)"><text id="o24" font-size="11.9" text-anchor="middle" font-weight="bold"> 45</text><path transform="translate(-9.922,0.000) scale(0.005811,-0.005811)" d="M430,0L430,1140L70,935L70,1178L475,1409L759,1409L759,0Z"/></g>
<g transform="translate(283.3,990.8)"><text id="o25" font-size="11.9" text-anchor="middle" font-weight="bold"> 88</text><path transform="translate(-9.922,0.000) scale(0.005811,-0.005811)" d="M430,0L430,1140L70,935L70,1178L475,1409L759,1409L759,0Z"/></g>
<text transform="translate(388,990.8)" font-size="11.9" text-anchor="middle" font-weight="bold" >242</text>
<text transform="translate(493.1,991) scale(0.93,1)" font-size="11.6" text-anchor="middle" font-weight="bold" letter-spacing="0.2" >333</text>
<text transform="translate(434,989.2)" font-size="13.4" text-anchor="start" font-weight="bold" >m/z</text>
<g transform="translate(82.7,857.3)"><text id="o26" font-size="12.4" text-anchor="start" font-weight="bold" letter-spacing="0.45">MS2 333. </text><path transform="translate(56.625,0.000) scale(0.006055,-0.006055)" d="M430,0L430,1140L70,935L70,1178L475,1409L759,1409L759,0Z"/></g>
<text transform="translate(84.3,872.3)" font-size="12.4" text-anchor="start" font-weight="bold" letter-spacing="0.4" >Rt</text>
<g transform="translate(101.0,872.3) scale(0.88,1)"><text id="o27" font-size="12.4" text-anchor="start" font-weight="bold" letter-spacing="0.9">3 </text><path transform="translate(7.780,0.000) scale(0.006055,-0.006055)" d="M430,0L430,1140L70,935L70,1178L475,1409L759,1409L759,0Z"/></g>
<text transform="translate(118.6,872.3)" font-size="12.4" text-anchor="start" font-weight="bold" letter-spacing="0.45" >min</text>
<text transform="translate(203.2,855.9) scale(0.95,1)" font-size="26.8" text-anchor="start" font-weight="bold" >E</text>
<g transform="translate(174.3,898.1)"><text id="o28" font-size="16.4" text-anchor="start" font-weight="bold"> 49</text><path transform="translate(0.000,0.000) scale(0.008008,-0.008008)" d="M430,0L430,1140L70,935L70,1178L475,1409L759,1409L759,0Z"/></g>
<g transform="translate(231.3,890.4)"><text id="o29" font-size="16.4" text-anchor="start" font-weight="bold"> 75</text><path transform="translate(0.000,0.000) scale(0.008008,-0.008008)" d="M430,0L430,1140L70,935L70,1178L475,1409L759,1409L759,0Z"/></g>
<g transform="translate(287.6,858.2)"><text id="o30" font-size="16.4" text-anchor="start" font-weight="bold" letter-spacing="0.2"> 87</text><path transform="translate(0.000,0.000) scale(0.008008,-0.008008)" d="M430,0L430,1140L70,935L70,1178L475,1409L759,1409L759,0Z"/></g>
<text transform="translate(378.5,871.9)" font-size="16.4" text-anchor="start" font-weight="bold" >247</text>
<g transform="translate(418.8,863.8)"><text id="o31" font-size="16.4" text-anchor="start" font-weight="bold" letter-spacing="0.45">27 . </text><path transform="translate(19.125,0.000) scale(0.008008,-0.008008)" d="M430,0L430,1140L70,935L70,1178L475,1409L759,1409L759,0Z"/><path transform="translate(33.688,0.000) scale(0.008008,-0.008008)" d="M430,0L430,1140L70,935L70,1178L475,1409L759,1409L759,0Z"/></g>
<g transform="translate(475.3,863.8)"><text id="o32" font-size="16.4" text-anchor="start" font-weight="bold" letter-spacing="0.75">289. </text><path transform="translate(34.891,0.000) scale(0.008008,-0.008008)" d="M430,0L430,1140L70,935L70,1178L475,1409L759,1409L759,0Z"/></g>
<text transform="translate(17.9,899.6) rotate(-90)" font-size="13.2" text-anchor="middle" font-weight="bold" letter-spacing="0.45" >Relative</text>
<clipPath id="cE"><rect x="0" y="863.3" width="60" height="100"/></clipPath><g clip-path="url(#cE)">
<text transform="translate(37.3,936.3) rotate(-90)" font-size="13.2" text-anchor="start" font-weight="bold" letter-spacing="0.85" >Abundance</text>
</g>
<rect x="124.2" y="956" width="4.200000000000003" height="13.799999999999955" fill="#000"/>
<rect x="141.5" y="967" width="3.5999999999999943" height="2.7999999999999545" fill="#000"/>
<rect x="163.3" y="964.2" width="3.0999999999999943" height="5.599999999999909" fill="#000"/>
<rect x="175.5" y="967.1" width="3.5999999999999943" height="2.699999999999932" fill="#000"/>
<rect x="180" y="953.2" width="3.0999999999999943" height="16.59999999999991" fill="#000"/>
<rect x="187.9" y="904.2" width="3.0999999999999943" height="65.59999999999991" fill="#000"/>
<rect x="214.1" y="935.9" width="2.700000000000017" height="33.89999999999998" fill="#000"/>
<rect x="217.9" y="932.3" width="3.0999999999999943" height="37.5" fill="#000"/>
<rect x="222.3" y="952.3" width="2.5" height="17.5" fill="#000"/>
<rect x="225.9" y="956.9" width="3.9000000000000057" height="12.899999999999977" fill="#000"/>
<rect x="238.3" y="947.8" width="3.299999999999983" height="22.0" fill="#000"/>
<rect x="247.8" y="892.2" width="2.6999999999999886" height="77.59999999999991" fill="#000"/>
<rect x="276.9" y="846.4" width="3.2000000000000455" height="123.39999999999998" fill="#000"/>
<rect x="281.4" y="953.3" width="2.7000000000000455" height="16.5" fill="#000"/>
<rect x="285.1" y="918.7" width="3.099999999999966" height="51.09999999999991" fill="#000"/>
<rect x="292.9" y="946" width="4.400000000000034" height="23.799999999999955" fill="#000"/>
<rect x="302.4" y="943.3" width="2.7000000000000455" height="26.5" fill="#000"/>
<rect x="306" y="919.8" width="2.8999999999999773" height="50.0" fill="#000"/>
<rect x="315.1" y="964.2" width="3.099999999999966" height="5.599999999999909" fill="#000"/>
<rect x="340.2" y="963.5" width="2.8000000000000114" height="6.2999999999999545" fill="#000"/>
<rect x="343.9" y="965.3" width="7.600000000000023" height="4.5" fill="#000"/>
<rect x="345" y="965.7" width="2.6999999999999886" height="4.099999999999909" fill="#000"/>
<rect x="348.3" y="965.1" width="3.599999999999966" height="4.699999999999932" fill="#000"/>
<rect x="356.8" y="963.3" width="3.099999999999966" height="6.5" fill="#000"/>
<rect x="361" y="956.9" width="3.1000000000000227" height="12.899999999999977" fill="#000"/>
<rect x="365.4" y="956.9" width="3.3000000000000114" height="12.899999999999977" fill="#000"/>
<rect x="369.6" y="965.1" width="2.6999999999999886" height="4.699999999999932" fill="#000"/>
<rect x="386.9" y="959.7" width="2.7000000000000455" height="10.099999999999909" fill="#000"/>
<rect x="390.5" y="966" width="2.8000000000000114" height="3.7999999999999545" fill="#000"/>
<rect x="394.5" y="961.1" width="3.6999999999999886" height="8.699999999999932" fill="#000"/>
<rect x="403.3" y="871.3" width="2.6999999999999886" height="98.5" fill="#000"/>
<rect x="410.9" y="962.4" width="4.2000000000000455" height="7.399999999999977" fill="#000"/>
<rect x="424.2" y="962.4" width="3.1000000000000227" height="7.399999999999977" fill="#000"/>
<rect x="428.2" y="965.7" width="3.900000000000034" height="4.099999999999909" fill="#000"/>
<rect x="441.2" y="871.3" width="3.1000000000000227" height="98.5" fill="#000"/>
<rect x="445.2" y="965.8" width="4.100000000000023" height="4.0" fill="#000"/>
<rect x="458" y="951" width="2.8000000000000114" height="18.799999999999955" fill="#000"/>
<rect x="461.8" y="853.6" width="3.5" height="116.19999999999993" fill="#000"/>
<rect x="471" y="926.3" width="3" height="43.5" fill="#000"/>
<rect x="479.2" y="923" width="3.8000000000000114" height="46.799999999999955" fill="#000"/>
<rect x="491.9" y="965" width="3.3000000000000114" height="4.7999999999999545" fill="#000"/>
<rect x="73.2" y="968.3" width="2.6" height="1.5" fill="#555"/>
<rect x="78.7" y="968.3" width="2.6" height="1.5" fill="#555"/>
<rect x="87.0" y="968.3" width="2.6" height="1.5" fill="#555"/>
<rect x="96.2" y="968.3" width="2.6" height="1.5" fill="#555"/>
<rect x="100.60000000000001" y="968.3" width="2.6" height="1.5" fill="#555"/>
<rect x="104.0" y="968.3" width="2.6" height="1.5" fill="#555"/>
<rect x="112.5" y="968.3" width="2.6" height="1.5" fill="#555"/>
<rect x="116.8" y="968.3" width="2.6" height="1.5" fill="#555"/>
<rect x="129.29999999999998" y="968.3" width="2.6" height="1.5" fill="#555"/>
<rect x="137.5" y="968.3" width="2.6" height="1.5" fill="#555"/>
<rect x="146.7" y="968.3" width="2.6" height="1.5" fill="#555"/>
<rect x="152.7" y="968.3" width="2.6" height="1.5" fill="#555"/>
<rect x="158.7" y="968.3" width="2.6" height="1.5" fill="#555"/>
<rect x="168.7" y="968.3" width="2.6" height="1.5" fill="#555"/>
<rect x="183.7" y="968.3" width="2.6" height="1.5" fill="#555"/>
<rect x="192.7" y="968.3" width="2.6" height="1.5" fill="#555"/>
<rect x="197.7" y="968.3" width="2.6" height="1.5" fill="#555"/>
<rect x="202.2" y="968.3" width="2.6" height="1.5" fill="#555"/>
<rect x="206.7" y="968.3" width="2.6" height="1.5" fill="#555"/>
<rect x="230.7" y="968.3" width="2.6" height="1.5" fill="#555"/>
<rect x="234.7" y="968.3" width="2.6" height="1.5" fill="#555"/>
<rect x="241.7" y="968.3" width="2.6" height="1.5" fill="#555"/>
<rect x="251.7" y="968.3" width="2.6" height="1.5" fill="#555"/>
<rect x="256.7" y="968.3" width="2.6" height="1.5" fill="#555"/>
<rect x="261.7" y="968.3" width="2.6" height="1.5" fill="#555"/>
<rect x="266.7" y="968.3" width="2.6" height="1.5" fill="#555"/>
<rect x="288.7" y="968.3" width="2.6" height="1.5" fill="#555"/>
<rect x="297.7" y="968.3" width="2.6" height="1.5" fill="#555"/>
<rect x="309.7" y="968.3" width="2.6" height="1.5" fill="#555"/>
<rect x="320.7" y="968.3" width="2.6" height="1.5" fill="#555"/>
<rect x="325.7" y="968.3" width="2.6" height="1.5" fill="#555"/>
<rect x="330.7" y="968.3" width="2.6" height="1.5" fill="#555"/>
<rect x="335.7" y="968.3" width="2.6" height="1.5" fill="#555"/>
<rect x="353.7" y="968.3" width="2.6" height="1.5" fill="#555"/>
<rect x="373.7" y="968.3" width="2.6" height="1.5" fill="#555"/>
<rect x="377.7" y="968.3" width="2.6" height="1.5" fill="#555"/>
<rect x="381.7" y="968.3" width="2.6" height="1.5" fill="#555"/>
<rect x="398.7" y="968.3" width="2.6" height="1.5" fill="#555"/>
<rect x="406.7" y="968.3" width="2.6" height="1.5" fill="#555"/>
<rect x="416.7" y="968.3" width="2.6" height="1.5" fill="#555"/>
<rect x="419.7" y="968.3" width="2.6" height="1.5" fill="#555"/>
<rect x="432.7" y="968.3" width="2.6" height="1.5" fill="#555"/>
<rect x="435.7" y="968.3" width="2.6" height="1.5" fill="#555"/>
<rect x="449.7" y="968.3" width="2.6" height="1.5" fill="#555"/>
<rect x="452.7" y="968.3" width="2.6" height="1.5" fill="#555"/>
<rect x="465.7" y="968.3" width="2.6" height="1.5" fill="#555"/>
<rect x="474.7" y="968.3" width="2.6" height="1.5" fill="#555"/>
<rect x="484.7" y="968.3" width="2.6" height="1.5" fill="#555"/>
<rect x="496.7" y="968.3" width="2.6" height="1.5" fill="#555"/>
<rect x="500.7" y="968.3" width="2.6" height="1.5" fill="#555"/>
</svg>
</body></html>
